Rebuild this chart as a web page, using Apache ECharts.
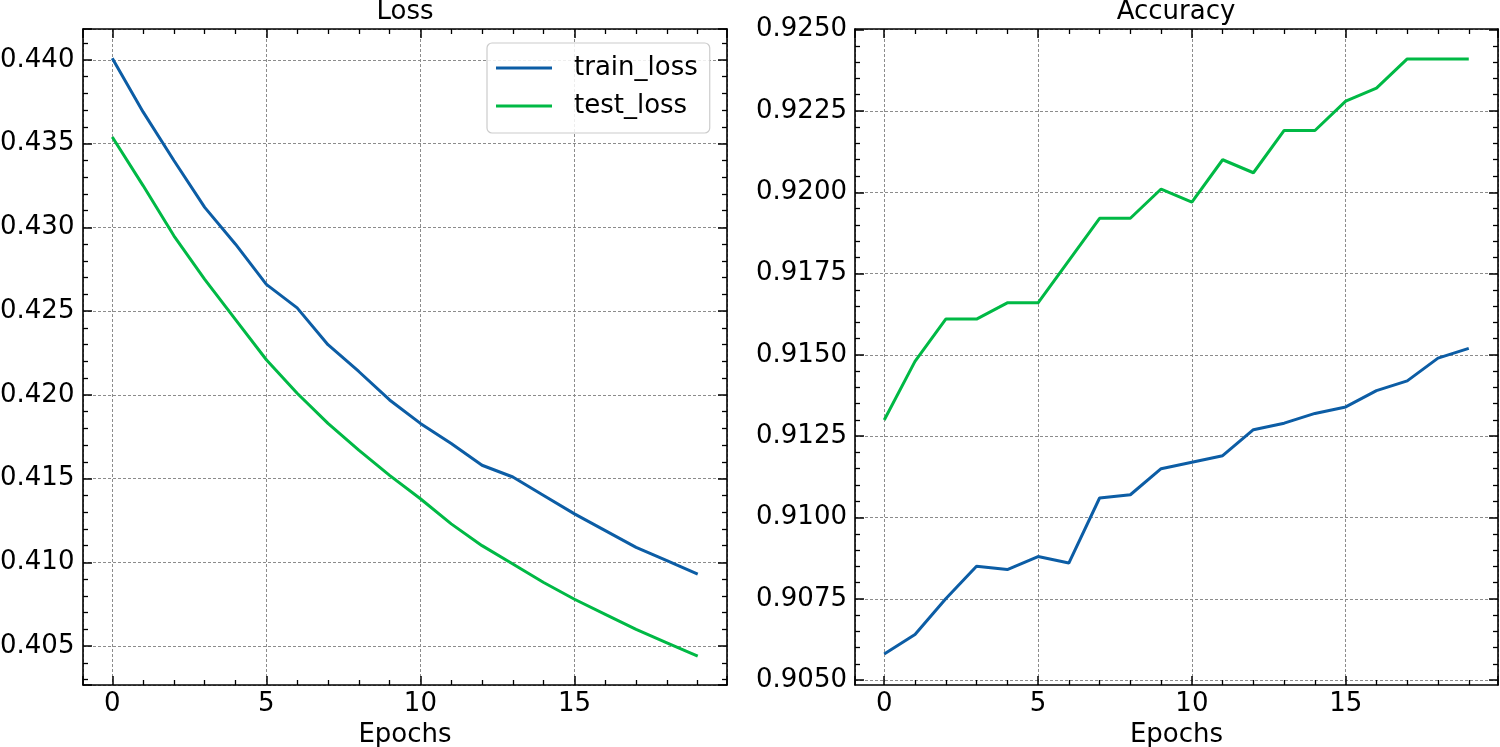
<!DOCTYPE html>
<html>
<head>
<meta charset="utf-8">
<script src="https://cdn.jsdelivr.net/npm/echarts@6/dist/echarts.min.js"></script>
<style>
  html, body { margin: 0; padding: 0; background: #fff; }
  #main { width: 1500px; height: 747px; }
</style>
</head>
<body>
<div id="main"></div>
<script>
// data
const epochs = [0, 1, 2, 3, 4, 5, 6, 7, 8, 9, 10, 11, 12, 13, 14, 15, 16, 17, 18, 19]
const trainLoss = [0.4401, 0.4369, 0.4340, 0.4312, 0.4290, 0.4266, 0.4252, 0.4230, 0.4214, 0.4197,
  0.4183, 0.4171, 0.4158, 0.4151, 0.4140, 0.4129, 0.4119, 0.4109, 0.4101, 0.4093]
const testLoss = [0.4354, 0.4325, 0.4295, 0.4269, 0.4245, 0.4221, 0.4201, 0.4183, 0.4167, 0.4152,
  0.4138, 0.4123, 0.4110, 0.4099, 0.4088, 0.4078, 0.4069, 0.4060, 0.4052, 0.4044]
const trainAcc = [0.9058, 0.9064, 0.9075, 0.9085, 0.9084, 0.9088, 0.9086, 0.9106, 0.9107, 0.9115,
  0.9117, 0.9119, 0.9127, 0.9129, 0.9132, 0.9134, 0.9139, 0.9142, 0.9149, 0.9152]
const testAcc = [0.9130, 0.9148, 0.9161, 0.9161, 0.9166, 0.9166, 0.9179, 0.9192, 0.9192, 0.9201,
  0.9197, 0.9210, 0.9206, 0.9219, 0.9219, 0.9228, 0.9232, 0.9241, 0.9241, 0.9241]

// tick labels of both y axes
const lossTicks = [0.405, 0.410, 0.415, 0.420, 0.425, 0.430, 0.435, 0.440]
const accTicks = [0.9050, 0.9075, 0.9100, 0.9125, 0.9150, 0.9175, 0.9200, 0.9225, 0.9250]
const accMinor = []
for (let i = 0; i < accTicks.length - 1; i++) {
  for (let k = 1; k < 5; k++) accMinor.push(+(accTicks[i] + k * 0.0005).toFixed(4))
}

const font = 'DejaVu Sans'
const fs = 26
const black = '#000'
const blue = '#0C5DA5'
const green = '#00B945'
const gridLine = { color: '#8c8c8c', width: 1, type: [3, 2] }
const xMin = -0.95, xMax = 19.95

const pairs = (ys) => ys.map((v, i) => [epochs[i], v])

const xAxisOf = (gi, pos) => ({
  type: 'value', gridIndex: gi, position: pos, min: xMin, max: xMax,
  axisLine: { show: true, onZero: false, lineStyle: { color: black, width: 1.6 } },
  axisTick: { show: true, inside: true, length: 9, lineStyle: { color: black, width: 1.5 } },
  minorTick: { show: true, splitNumber: 5, length: 5, lineStyle: { color: black, width: 1.3 } },
  axisLabel: {
    show: pos === 'bottom', margin: 6, fontSize: fs, fontFamily: font, color: black,
    showMinLabel: false, showMaxLabel: false,
    formatter: (v) => (Number.isInteger(v) ? String(v) : '')
  },
  splitLine: { show: pos === 'bottom', lineStyle: gridLine },
  name: pos === 'bottom' ? 'Epochs' : '',
  nameLocation: 'middle', nameGap: 35,
  nameTextStyle: { fontSize: fs, fontFamily: font, color: black }
})

const yLossOf = (pos) => ({
  type: 'value', gridIndex: 0, position: pos, min: 0.40268, max: 0.44185, splitNumber: 8,
  axisLine: { show: true, onZero: false, lineStyle: { color: black, width: 1.6 } },
  axisTick: { show: true, inside: true, length: 9, lineStyle: { color: black, width: 1.5 } },
  minorTick: { show: true, splitNumber: 5, length: 5, lineStyle: { color: black, width: 1.3 } },
  axisLabel: {
    // anchored from the left edge so the leading zero stays on the canvas
    show: pos === 'left', margin: 83, align: 'left', fontSize: fs, fontFamily: font, color: black,
    customValues: lossTicks,
    formatter: (v) => v.toFixed(3)
  },
  splitLine: { show: pos === 'left', lineStyle: gridLine }
})

const yAccOf = (pos, minor) => ({
  type: 'value', gridIndex: 1, position: pos, min: 0.90485, max: 0.92502,
  axisLine: { show: !minor, onZero: false, lineStyle: { color: black, width: 1.6 } },
  axisTick: {
    show: true, inside: true, length: minor ? 5 : 9,
    customValues: minor ? accMinor : accTicks,
    lineStyle: { color: black, width: minor ? 1.3 : 1.5 }
  },
  minorTick: { show: false },
  axisLabel: {
    show: pos === 'left' && !minor, margin: 8, fontSize: fs, fontFamily: font, color: black,
    customValues: accTicks, align: 'right',
    formatter: (v) => v.toFixed(4)
  },
  splitLine: { show: pos === 'left' && !minor, lineStyle: gridLine }
})

const titleStyle = { fontSize: fs, fontWeight: 'normal', fontFamily: font, color: black }

const chart = echarts.init(document.getElementById('main'))
chart.setOption({
  animation: false,
  backgroundColor: '#fff',
  textStyle: { fontFamily: font },
  title: [
    { text: 'Loss', left: 405, top: -1, textAlign: 'center', padding: 0, textStyle: titleStyle },
    { text: 'Accuracy', left: 1176, top: -1, textAlign: 'center', padding: 0, textStyle: titleStyle }
  ],
  legend: {
    data: [{ name: 'train_loss', icon: 'rect' }, { name: 'test_loss', icon: 'rect' }],
    orient: 'vertical', left: 487, top: 43,
    itemWidth: 56, itemHeight: 3, itemGap: 8,
    padding: [10, 12, 12, 9],
    backgroundColor: 'rgba(255,255,255,0.85)',
    borderColor: '#cccccc', borderWidth: 1.2, borderRadius: 5,
    textStyle: { fontSize: fs, fontFamily: font, color: black, lineHeight: 30, padding: [0, 0, 0, 17] }
  },
  grid: [
    { left: 83, right: 773, top: 29, bottom: 62, containLabel: false, outerBoundsMode: 'none' },
    { left: 855, right: 2, top: 29, bottom: 62, containLabel: false, outerBoundsMode: 'none' }
  ],
  xAxis: [
    xAxisOf(0, 'bottom'), xAxisOf(0, 'top'),
    xAxisOf(1, 'bottom'), xAxisOf(1, 'top')
  ],
  yAxis: [
    yLossOf('left'), yLossOf('right'),
    yAccOf('left', false), yAccOf('right', false),
    yAccOf('left', true), yAccOf('right', true)
  ],
  series: [
    { name: 'train_loss', type: 'line', xAxisIndex: 0, yAxisIndex: 0, data: pairs(trainLoss),
      symbol: 'none', lineStyle: { color: blue, width: 3 }, itemStyle: { color: blue } },
    { name: 'test_loss', type: 'line', xAxisIndex: 0, yAxisIndex: 0, data: pairs(testLoss),
      symbol: 'none', lineStyle: { color: green, width: 3 }, itemStyle: { color: green } },
    { name: 'train_acc', type: 'line', xAxisIndex: 2, yAxisIndex: 2, data: pairs(trainAcc),
      symbol: 'none', lineStyle: { color: blue, width: 3 }, itemStyle: { color: blue } },
    { name: 'test_acc', type: 'line', xAxisIndex: 2, yAxisIndex: 2, data: pairs(testAcc),
      symbol: 'none', lineStyle: { color: green, width: 3 }, itemStyle: { color: green } }
  ]
})
</script>
</body>
</html>
